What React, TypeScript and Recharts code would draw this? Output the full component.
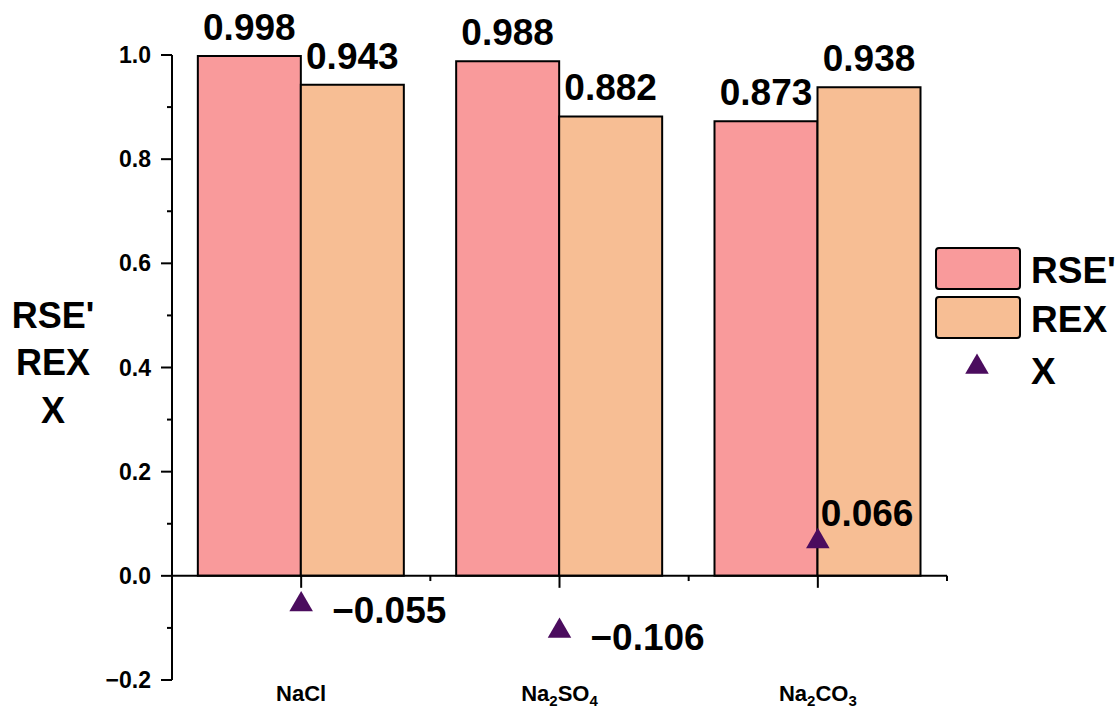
import React from 'react';
import {
  ComposedChart,
  Bar,
  Scatter,
  XAxis,
  YAxis,
  ReferenceLine,
  LabelList,
  Legend,
  Label,
  Symbols,
} from 'recharts';

// ---- data ----
const CATEGORIES = ['NaCl', 'Na2SO4', 'Na2CO3'];
const RSE_VALUES = [0.998, 0.988, 0.873];
const REX_VALUES = [0.943, 0.882, 0.938];
const X_VALUES = [-0.055, -0.106, 0.066];
const Y_TICKS = [-0.2, -0.1, 0, 0.1, 0.2, 0.3, 0.4, 0.5, 0.6, 0.7, 0.8, 0.9, 1.0];
const Y_TITLE_LINES = ["RSE'", 'REX', 'X'];
const SERIES_NAMES = ["RSE'", 'REX', 'X'];

const data = CATEGORIES.map((name, i) => ({
  name,
  RSE: RSE_VALUES[i],
  REX: REX_VALUES[i],
  X: X_VALUES[i],
}));

// ---- style ----
const FONT = '"Liberation Sans", Arial, Helvetica, sans-serif';
const RSE_COLOR = '#F99A9B';
const REX_COLOR = '#F7BE94';
const X_COLOR = '#4B0C5E';
const TRI_SIZE = 240;
const VALUE_FONT = 37;

const fmt = (v: number) => (v < 0 ? '\u2212' + Math.abs(v).toFixed(3) : v.toFixed(3));
const fmtTick = (v: number) => (v < 0 ? '\u2212' + Math.abs(v).toFixed(1) : v.toFixed(1));

const YTick = (props: any) => {
  const { x, y, payload } = props;
  const v = payload.value as number;
  const major = Math.round(v * 10) % 2 === 0;
  return (
    <g>
      <line x1={x - (major ? 11 : 5)} x2={x} y1={y} y2={y} stroke="#000" strokeWidth={2} />
      {major && (
        <text
          x={x - 21}
          y={y + 8}
          textAnchor="end"
          fontFamily={FONT}
          fontWeight="bold"
          fontSize={23}
          fill="#000"
        >
          {fmtTick(v)}
        </text>
      )}
    </g>
  );
};

const XTick = (props: any) => {
  const { x, y, payload } = props;
  const label = String(payload.value);
  const parts = label.match(/[A-Za-z]+|\d+/g) || [];
  let sub = false;
  return (
    <text
      x={x}
      y={y + 21}
      textAnchor="middle"
      fontFamily={FONT}
      fontWeight="bold"
      fontSize={22}
      fill="#000"
    >
      {parts.map((p, i) => {
        const isNum = /^\d+$/.test(p);
        let dy = 0;
        if (isNum && !sub) {
          dy = 5;
          sub = true;
        } else if (!isNum && sub) {
          dy = -5;
          sub = false;
        }
        return (
          <tspan key={i} dy={dy} fontSize={isNum ? 15 : 22}>
            {p}
          </tspan>
        );
      })}
    </text>
  );
};

const BarValueLabel = (props: any) => {
  const { x, y, width, value } = props;
  return (
    <text
      x={x + width / 2}
      y={y - 16}
      textAnchor="middle"
      fontFamily={FONT}
      fontWeight="bold"
      fontSize={VALUE_FONT}
      fill="#000"
    >
      {fmt(value)}
    </text>
  );
};

const TriangleShape = (props: any) => {
  const { cx, cy, payload } = props;
  const v = payload.X as number;
  const neg = v < 0;
  return (
    <g>
      <Symbols cx={cx} cy={cy} type="triangle" size={TRI_SIZE} fill={X_COLOR} />
      <text
        x={neg ? cx + 31 : cx + 3}
        y={neg ? cy + 19 : cy - 15}
        fontFamily={FONT}
        fontWeight="bold"
        fontSize={VALUE_FONT}
        fill="#000"
      >
        {fmt(v)}
      </text>
    </g>
  );
};

const YTitle = (props: any) => {
  const { viewBox } = props;
  const cy = viewBox.y + viewBox.height / 2;
  const offsets = [-40, 7.5, 55];
  return (
    <g>
      {Y_TITLE_LINES.map((t, i) => (
        <text
          key={t}
          x={viewBox.x + 53}
          y={cy + offsets[i]}
          textAnchor="middle"
          fontFamily={FONT}
          fontWeight="bold"
          fontSize={36}
          fill="#000"
        >
          {t}
        </text>
      ))}
    </g>
  );
};

const LegendContent = (props: any) => {
  const payload = [...(props.payload || [])].sort(
    (a: any, b: any) => SERIES_NAMES.indexOf(a.value) - SERIES_NAMES.indexOf(b.value)
  );
  return (
    <svg width={185} height={150} style={{ display: 'block' }}>
      {payload.map((entry: any, i: number) => {
        const top = 3 + i * 49;
        const isTri = entry.type === 'triangle';
        return (
          <g key={entry.value}>
            {isTri ? (
              <Symbols cx={44} cy={top + 21} type="triangle" size={TRI_SIZE} fill={entry.color} />
            ) : (
              <rect
                x={3}
                y={top}
                width={84}
                height={41}
                rx={3}
                fill={entry.color}
                stroke="#000"
                strokeWidth={2}
              />
            )}
            <text
              x={98}
              y={top + 35 + (isTri ? 3 : 0)}
              fontFamily={FONT}
              fontWeight="bold"
              fontSize={37}
              fill="#000"
            >
              {entry.value}
            </text>
          </g>
        );
      })}
    </svg>
  );
};

export default function App() {
  return (
    <div style={{ position: 'absolute', left: 0, top: 0, background: '#fff' }}>
      <ComposedChart
        width={1118}
        height={709}
        data={data}
        margin={{ top: 55, right: 171, bottom: 0, left: 0 }}
        barCategoryGap="10%"
        barGap={0}
      >
        <XAxis
          dataKey="name"
          height={29}
          axisLine={false}
          tickLine={false}
          tickSize={0}
          tickMargin={0}
          tick={<XTick />}
          interval={0}
        />
        <YAxis
          width={172}
          domain={[-0.2, 1.0]}
          ticks={Y_TICKS}
          interval={0}
          tickLine={false}
          tickSize={0}
          tickMargin={0}
          tick={<YTick />}
          axisLine={{ stroke: '#000', strokeWidth: 2 }}
          allowDataOverflow
        >
          <Label content={<YTitle />} />
        </YAxis>
        <Bar
          dataKey="RSE"
          name="RSE'"
          fill={RSE_COLOR}
          stroke="#000"
          strokeWidth={2}
          legendType="rect"
          isAnimationActive={false}
        >
          <LabelList dataKey="RSE" content={<BarValueLabel />} />
        </Bar>
        <Bar
          dataKey="REX"
          name="REX"
          fill={REX_COLOR}
          stroke="#000"
          strokeWidth={2}
          legendType="rect"
          isAnimationActive={false}
        >
          <LabelList dataKey="REX" content={<BarValueLabel />} />
        </Bar>
        <ReferenceLine y={0} stroke="#000" strokeWidth={2} />
        {CATEGORIES.map((c) => (
          <ReferenceLine
            key={'maj' + c}
            position="middle"
            segment={[
              { x: c, y: 0 },
              { x: c, y: -0.023 },
            ]}
            stroke="#000"
            strokeWidth={2}
          />
        ))}
        {CATEGORIES.map((c) => (
          <ReferenceLine
            key={'min' + c}
            position="end"
            segment={[
              { x: c, y: 0 },
              { x: c, y: -0.01 },
            ]}
            stroke="#000"
            strokeWidth={2}
          />
        ))}
        <Scatter
          dataKey="X"
          name="X"
          fill={X_COLOR}
          legendType="triangle"
          shape={<TriangleShape />}
          isAnimationActive={false}
        />
        <Legend
          layout="horizontal"
          verticalAlign="middle"
          align="center"
          content={<LegendContent />}
          wrapperStyle={{ position: 'absolute', left: 933, top: 245, width: 185, height: 150 }}
        />
      </ComposedChart>
    </div>
  );
}
